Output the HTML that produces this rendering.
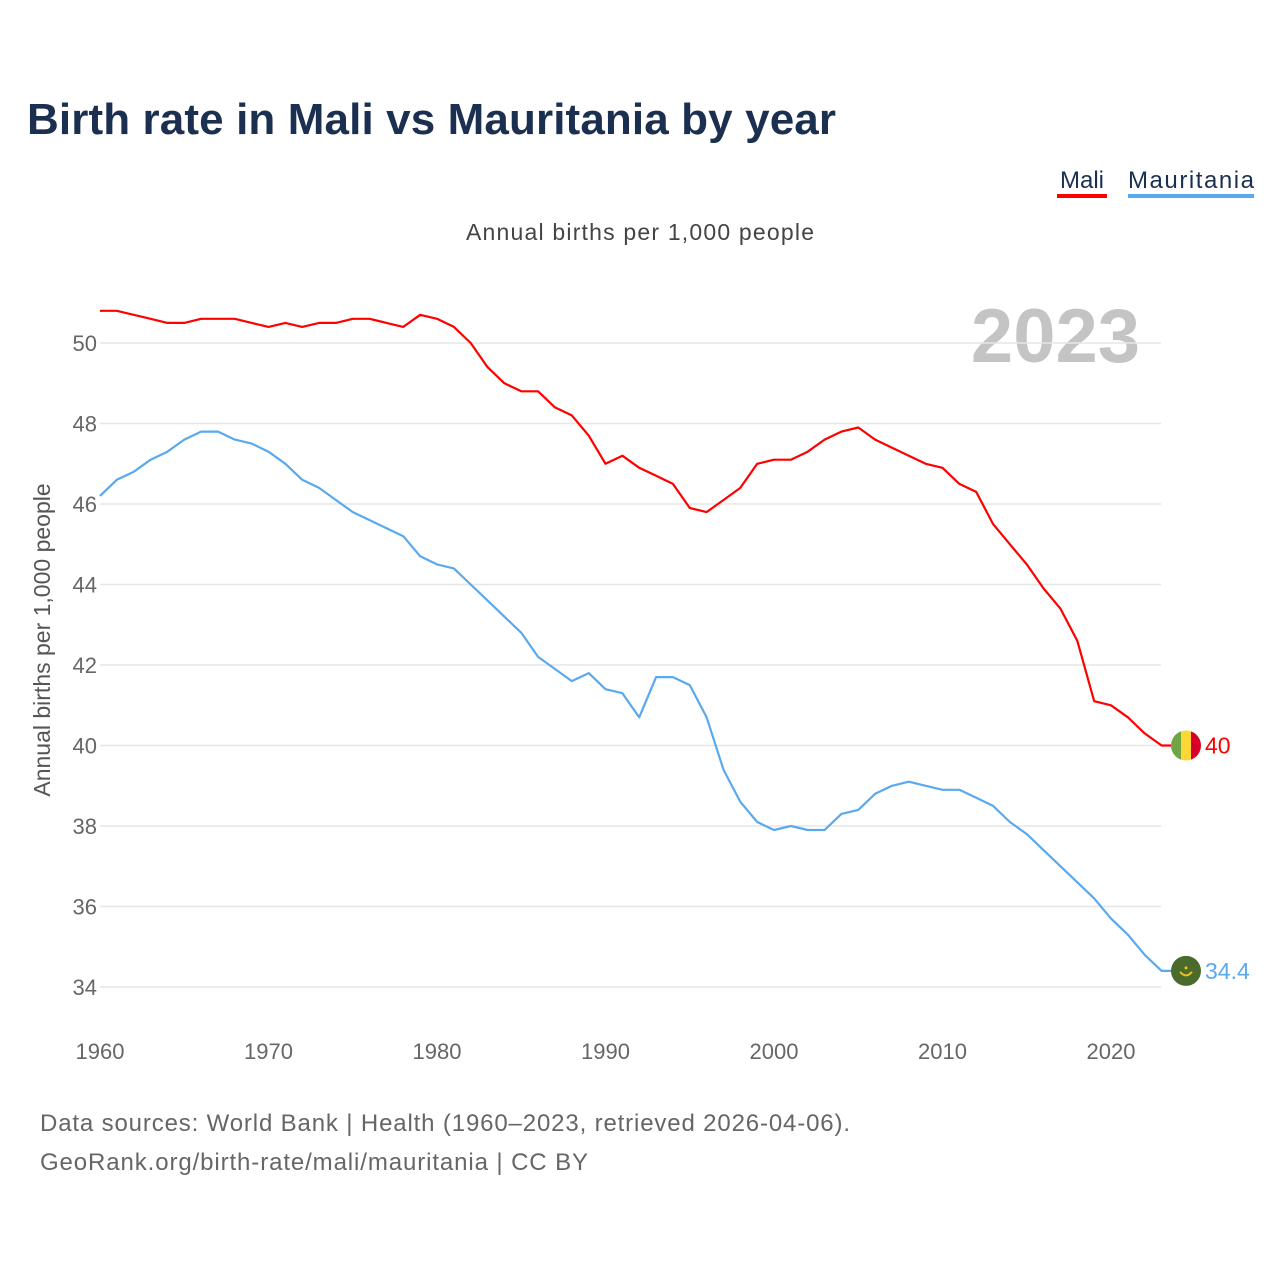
<!DOCTYPE html>
<html><head><meta charset="utf-8"><style>
body{margin:0;background:#fff;font-family:"Liberation Sans",sans-serif}
</style></head><body>
<svg width="1280" height="1280" xmlns="http://www.w3.org/2000/svg" font-family="Liberation Sans, sans-serif">
<text x="27" y="134" font-size="44" font-weight="bold" fill="#1b3050" textLength="809">Birth rate in Mali vs Mauritania by year</text>
<g>
<text x="1082" y="188" font-size="24" fill="#1b3050" text-anchor="middle">Mali</text>
<rect x="1057" y="194" width="50" height="4" fill="#ff0000"/>
<text x="1128" y="188" font-size="24" fill="#1b3050" textLength="126">Mauritania</text>
<rect x="1128" y="194" width="126" height="4" fill="#5aa9ef"/>
</g>
<text x="466" y="240" font-size="23" fill="#444" textLength="348">Annual births per 1,000 people</text>
<text x="1140" y="362" font-size="76" font-weight="bold" fill="#c4c4c4" text-anchor="end">2023</text>
<text transform="translate(50,640) rotate(-90)" font-size="23" fill="#555" text-anchor="middle">Annual births per 1,000 people</text>
<g id="grid"></g><g id="lines"></g>
<text x="40" y="1131" font-size="24" fill="#666" textLength="810">Data sources: World Bank | Health (1960–2023, retrieved 2026-04-06).</text>
<text x="40" y="1170" font-size="24" fill="#666" textLength="548">GeoRank.org/birth-rate/mali/mauritania | CC BY</text>
</svg>
<script>
const years=[];for(let y=1960;y<=2023;y++)years.push(y);
const mali=[50.8,50.8,50.7,50.6,50.5,50.5,50.6,50.6,50.6,50.5,50.4,50.5,50.4,50.5,50.5,50.6,50.6,50.5,50.4,50.7,50.6,50.4,50.0,49.4,49.0,48.8,48.8,48.4,48.2,47.7,47.0,47.2,46.9,46.7,46.5,45.9,45.8,46.1,46.4,47.0,47.1,47.1,47.3,47.6,47.8,47.9,47.6,47.4,47.2,47.0,46.9,46.5,46.3,45.5,45.0,44.5,43.9,43.4,42.6,41.1,41.0,40.7,40.3,40.0];
const mauritania=[46.2,46.6,46.8,47.1,47.3,47.6,47.8,47.8,47.6,47.5,47.3,47.0,46.6,46.4,46.1,45.8,45.6,45.4,45.2,44.7,44.5,44.4,44.0,43.6,43.2,42.8,42.2,41.9,41.6,41.8,41.4,41.3,40.7,41.7,41.7,41.5,40.7,39.4,38.6,38.1,37.9,38.0,37.9,37.9,38.3,38.4,38.8,39.0,39.1,39.0,38.9,38.9,38.7,38.5,38.1,37.8,37.4,37.0,36.6,36.2,35.7,35.3,34.8,34.4];
const yTicks=[34,36,38,40,42,44,46,48,50];
const xTicks=[1960,1970,1980,1990,2000,2010,2020];
const NS="http://www.w3.org/2000/svg";
const xs=v=>100+(v-1960)*(1011/60);
const ys=v=>343+(50-v)*40.25;
function mk(t,a,p){const e=document.createElementNS(NS,t);for(const k in a)e.setAttribute(k,a[k]);p.appendChild(e);return e;}
const grid=document.getElementById('grid'),lines=document.getElementById('lines');
yTicks.forEach(v=>{
 const l=mk('line',{x1:100,x2:1161,y1:ys(v),y2:ys(v),stroke:'#e6e6e6','stroke-width':1.5},grid);
 
 
 const t=mk('text',{x:97,y:ys(v)+8,'font-size':22,fill:'#666','text-anchor':'end'},grid);t.textContent=v;
 
 
});
xTicks.forEach(v=>{
 const t=mk('text',{x:xs(v),y:1059,'font-size':22,fill:'#666','text-anchor':'middle'},grid);t.textContent=v;
 
 
});
function series(vals,col,name){
 let d=vals.map((v,i)=>(i?'L':'M')+xs(years[i]).toFixed(1)+','+ys(v).toFixed(1)).join('');
 const last=vals[vals.length-1];
 d+='L'+(xs(2023)+10)+','+ys(last).toFixed(1);
 const p=mk('path',{d:d,fill:'none',stroke:col,'stroke-width':2.2,'stroke-linejoin':'round'},lines);
 
 
 const t=mk('text',{x:1205,y:ys(last)+8,'font-size':23,fill:col},lines);t.textContent=last;
 
 
 return ys(last);
}
const ym=series(mali,'#ff0000','mali');
const yr=series(mauritania,'#5aa9ef','mauritania');
const g1=mk('g',{},lines);


mk('clipPath',{id:'cm'},g1).appendChild(document.createElementNS(NS,'circle'));
const cc=document.querySelector('#cm circle');cc.setAttribute('cx',1186);cc.setAttribute('cy',ym);cc.setAttribute('r',15);
mk('rect',{x:1171,y:ym-15,width:10,height:30,fill:'#6fa544','clip-path':'url(#cm)'},g1);
mk('rect',{x:1181,y:ym-15,width:10,height:30,fill:'#fdd835','clip-path':'url(#cm)'},g1);
mk('rect',{x:1191,y:ym-15,width:10,height:30,fill:'#d80027','clip-path':'url(#cm)'},g1);
const g2=mk('g',{},lines);


mk('circle',{cx:1186,cy:yr,r:15,fill:'#4a6b2c'},g2);
mk('path',{d:`M1180,${yr+1} Q1186,${yr+8} 1192,${yr+1}`,fill:'none',stroke:'#f0c419','stroke-width':2},g2);
mk('circle',{cx:1186,cy:yr-3,r:1.5,fill:'#f0c419'},g2);
</script>
</body></html>
